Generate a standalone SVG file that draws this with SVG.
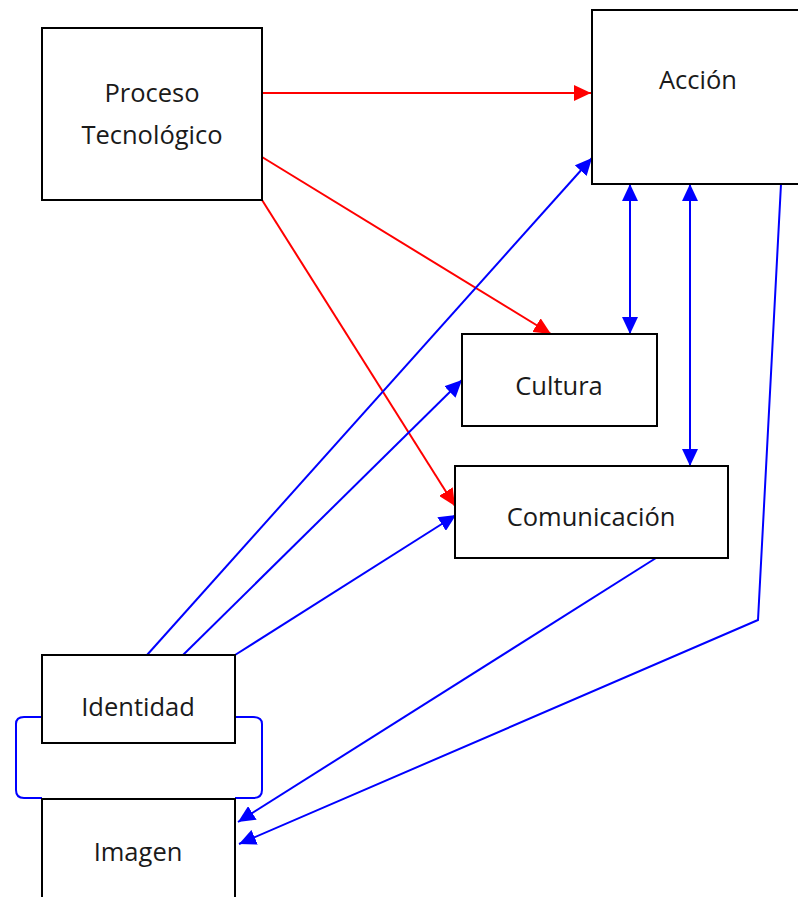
<svg xmlns="http://www.w3.org/2000/svg" width="798" height="897" viewBox="0 0 798 897">
<style>
.box{fill:#fff;stroke:#000;stroke-width:2}
.lbl{font-family:"Open Sans","Liberation Sans",sans-serif;font-size:25.5px;fill:#1a1a1a;text-anchor:middle}
.red{stroke:#ff0000;stroke-width:2;fill:none}
.blue{stroke:#0000ff;stroke-width:2;fill:none}
</style>
<defs>
<marker id="ar" markerUnits="userSpaceOnUse" markerWidth="18" markerHeight="16" refX="17" refY="8" orient="auto"><path d="M0,0 L17,8 L0,16 Z" fill="#ff0000"/></marker>
<marker id="ab" markerUnits="userSpaceOnUse" markerWidth="18" markerHeight="16" refX="17" refY="8" orient="auto-start-reverse"><path d="M0,0 L17,8 L0,16 Z" fill="#0000ff"/></marker>
</defs>
<rect width="798" height="897" fill="#fff"/>
<g id="connectors">
<line class="red" x1="262" y1="93" x2="591" y2="93" marker-end="url(#ar)"/>
<line class="red" x1="262" y1="157" x2="551" y2="334" marker-end="url(#ar)"/>
<line class="red" x1="262" y1="200" x2="455" y2="506" marker-end="url(#ar)"/>
<line class="blue" x1="147" y1="655" x2="592" y2="158" marker-end="url(#ab)"/>
<line class="blue" x1="183" y1="655" x2="462" y2="380" marker-end="url(#ab)"/>
<line class="blue" x1="235" y1="655" x2="456" y2="515" marker-end="url(#ab)"/>
<line class="blue" x1="630" y1="184" x2="630" y2="334" marker-start="url(#ab)" marker-end="url(#ab)"/>
<line class="blue" x1="690" y1="184" x2="690" y2="466" marker-start="url(#ab)" marker-end="url(#ab)"/>
<line class="blue" x1="656" y1="558" x2="238" y2="822" marker-end="url(#ab)"/>
<polyline class="blue" points="781,184 758,620 239,844" marker-end="url(#ab)"/>
<path class="blue" d="M42,717 L24,717 Q16,717 16,724 L16,790 Q16,798 24,798 L42,798"/>
<path class="blue" d="M235,717 L253,717 Q262,717 262,724 L262,790 Q262,798 253,798 L235,798"/>
</g>
<g id="proceso"><rect class="box" x="42" y="28" width="220" height="172"/><text class="lbl" x="152" y="102">Proceso</text><text class="lbl" x="152" y="144">Tecnológico</text></g>
<g id="accion"><rect class="box" x="592" y="10" width="210" height="174"/><text class="lbl" x="698" y="89">Acción</text></g>
<g id="cultura"><rect class="box" x="462" y="334" width="195" height="92"/><text class="lbl" x="559" y="395">Cultura</text></g>
<g id="comunicacion"><rect class="box" x="455" y="466" width="273" height="92"/><text class="lbl" x="591" y="526">Comunicación</text></g>
<g id="identidad"><rect class="box" x="42" y="655" width="193" height="88"/><text class="lbl" x="138" y="716">Identidad</text></g>
<g id="imagen"><rect class="box" x="42" y="799" width="193" height="102"/><text class="lbl" x="138" y="861">Imagen</text></g>
</svg>
